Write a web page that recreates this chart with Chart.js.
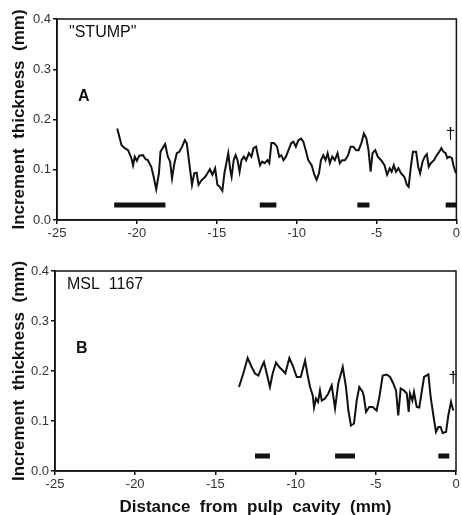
<!DOCTYPE html>
<html>
<head>
<meta charset="utf-8">
<script src="https://cdn.jsdelivr.net/npm/chart.js@4/dist/chart.umd.min.js"></script>
<style>
  html, body { margin: 0; padding: 0; background: #fff; overflow: hidden; }
  #wrap { position: relative; width: 462px; height: 515px; overflow: hidden; }
  canvas { position: absolute; left: 0; }
</style>
</head>
<body>
<div id="wrap">
  <canvas id="chartA" width="462" height="250" style="top:0"></canvas>
  <canvas id="chartB" width="462" height="268" style="top:250px"></canvas>
</div>
<script>
// x ticks (mm from pulp cavity) and y ticks (mm)
const xTicks = [-25, -20, -15, -10, -5, 0];
const yTicks = [0, 0.1, 0.2, 0.3, 0.4];

// panel A, "STUMP"
const stumpX = [-21.23, -20.96, -20.76, -20.55, -20.34, -20.24, -20.13, -20.0, -19.85, -19.62, -19.45, -19.31, -19.1,
  -18.95, -18.79, -18.62, -18.52, -18.33, -18.23, -18.06, -17.92, -17.8, -17.65, -17.5, -17.34, -17.17, -17.0,
  -16.88, -16.72, -16.55, -16.41, -16.26, -16.14, -15.93, -15.72, -15.58, -15.43, -15.27, -15.1, -14.96, -14.81,
  -14.65, -14.52, -14.4, -14.28, -14.15, -14.07, -13.94, -13.82, -13.7, -13.57, -13.45, -13.3, -13.16, -12.99,
  -12.83, -12.7, -12.54, -12.41, -12.29, -12.16, -12.0, -11.83, -11.71, -11.58, -11.42, -11.23, -11.09, -10.96,
  -10.82, -10.67, -10.51, -10.34, -10.2, -10.05, -9.89, -9.72, -9.58, -9.43, -9.27, -9.06, -8.89, -8.75, -8.6,
  -8.48, -8.33, -8.19, -8.06, -7.92, -7.77, -7.61, -7.44, -7.3, -7.15, -6.97, -6.78, -6.62, -6.45, -6.28, -6.12,
  -5.95, -5.79, -5.64, -5.5, -5.37, -5.25, -5.08, -4.92, -4.71, -4.5, -4.34, -4.17, -4.05, -3.92, -3.78, -3.63,
  -3.47, -3.26, -3.1, -2.99, -2.85, -2.72, -2.52, -2.39, -2.27, -2.12, -1.98, -1.85, -1.73, -1.6, -1.4, -1.23,
  -1.07, -0.94, -0.82, -0.67, -0.57, -0.45, -0.28, -0.16, -0.03];
const stumpY = [0.182, 0.149, 0.143, 0.139, 0.123, 0.109, 0.126, 0.118, 0.128, 0.129, 0.121, 0.119, 0.106,
  0.086, 0.061, 0.093, 0.136, 0.146, 0.151, 0.126, 0.116, 0.083, 0.113, 0.133, 0.136, 0.146, 0.159,
  0.153, 0.113, 0.07, 0.093, 0.094, 0.07, 0.08, 0.086, 0.093, 0.101, 0.09, 0.103, 0.07, 0.066,
  0.058, 0.093, 0.113, 0.133, 0.099, 0.086, 0.119, 0.129, 0.119, 0.096, 0.119, 0.126, 0.119, 0.133,
  0.126, 0.143, 0.146, 0.126, 0.109, 0.116, 0.113, 0.119, 0.113, 0.153, 0.153, 0.146, 0.126, 0.129,
  0.119, 0.126, 0.139, 0.153, 0.156, 0.146, 0.159, 0.162, 0.156, 0.139, 0.119, 0.109, 0.09, 0.08, 0.093,
  0.119, 0.129, 0.119, 0.133, 0.113, 0.126, 0.119, 0.133, 0.113, 0.119, 0.119, 0.129, 0.146, 0.146, 0.139, 0.139,
  0.153, 0.172, 0.163, 0.139, 0.096, 0.133, 0.139, 0.126, 0.119, 0.109, 0.09, 0.103, 0.096, 0.109, 0.096, 0.103,
  0.093, 0.086, 0.07, 0.066, 0.106, 0.136, 0.136, 0.106, 0.093, 0.116, 0.126, 0.131, 0.106, 0.113, 0.119, 0.129,
  0.136, 0.143, 0.136, 0.133, 0.123, 0.126, 0.123, 0.106, 0.093];
const stumpBars = [[-21.42, -18.21], [-12.31, -11.27], [-6.2, -5.44], [-0.67, 0]];

// panel B, MSL 1167
const mslX = [-13.53, -13.26, -12.99, -12.74, -12.53, -12.32, -12.11, -11.97, -11.8, -11.6, -11.43, -11.22,
  -11.02, -10.8, -10.64, -10.39, -10.18, -9.93, -9.68, -9.41, -9.27, -9.1, -8.93, -8.85, -8.73, -8.6, -8.48,
  -8.37, -8.17, -7.96, -7.75, -7.54, -7.34, -7.06, -6.86, -6.71, -6.55, -6.36, -6.19, -6.03, -5.82, -5.74,
  -5.61, -5.41, -5.2, -4.95, -4.78, -4.57, -4.32, -4.11, -3.91, -3.74, -3.6, -3.45, -3.24, -3.07, -2.95,
  -2.87, -2.72, -2.62, -2.45, -2.29, -2.14, -1.99, -1.72, -1.58, -1.41, -1.25, -1.1, -0.96, -0.83, -0.62,
  -0.48, -0.31, -0.17];
const mslY = [0.168, 0.195, 0.226, 0.208, 0.195, 0.191, 0.208, 0.218, 0.195, 0.168, 0.195, 0.217,
  0.208, 0.201, 0.195, 0.226, 0.211, 0.188, 0.188, 0.221, 0.195, 0.168, 0.151, 0.127, 0.145, 0.138, 0.161,
  0.141, 0.145, 0.155, 0.171, 0.125, 0.175, 0.208, 0.168, 0.121, 0.091, 0.095, 0.141, 0.168, 0.158, 0.148,
  0.118, 0.128, 0.128, 0.121, 0.148, 0.191, 0.193, 0.188, 0.175, 0.161, 0.111, 0.165, 0.161, 0.155, 0.118,
  0.155, 0.141, 0.158, 0.128, 0.127, 0.158, 0.188, 0.193, 0.148, 0.111, 0.078, 0.088, 0.088, 0.076, 0.078,
  0.111, 0.138, 0.121];
const mslBars = [[-12.53, -11.6], [-7.54, -6.3], [-1.1, -0.42]];

const barLevel = 0.03;

const FONT = "'Liberation Sans', Arial, Helvetica, sans-serif";
const INK = '#111';

function toPoints(xs, ys) {
  return xs.map((x, i) => ({ x: x, y: ys[i] }));
}

// frame round the plot area + text labels
const framePlugin = {
  id: 'frame',
  afterDraw(chart, args, opts) {
    const { ctx, chartArea: a, scales } = chart;
    ctx.save();
    ctx.strokeStyle = INK;
    ctx.lineWidth = 1.5;
    ctx.strokeRect(a.left, a.top, a.right - a.left, a.bottom - a.top);
    ctx.fillStyle = INK;
    ctx.textBaseline = 'middle';
    ctx.textAlign = 'left';
    ctx.font = '16px ' + FONT;
    ctx.fillText(opts.name, a.left + 12, a.top + 14);
    ctx.font = 'bold 16px ' + FONT;
    ctx.fillText(opts.letter, a.left + 21, a.top + 78);
    ctx.font = '17px ' + FONT;
    ctx.textAlign = 'center';
    ctx.fillText('\u2020', scales.x.getPixelForValue(opts.dagger[0]), scales.y.getPixelForValue(opts.dagger[1]));
    ctx.restore();
  }
};

function makeChart(id, xs, ys, bars, opts) {
  const datasets = [{
    data: toPoints(xs, ys),
    borderColor: INK,
    borderWidth: 2,
    pointRadius: 0,
    tension: 0
  }];
  bars.forEach(b => {
    datasets.push({
      data: [{ x: b[0], y: barLevel }, { x: b[1], y: barLevel }],
      borderColor: INK,
      borderWidth: 5,
      borderCapStyle: 'butt',
      pointRadius: 0
    });
  });
  return new Chart(id, {
    type: 'line',
    data: { datasets: datasets },
    options: {
      responsive: false,
      animation: false,
      layout: { padding: opts.padding },
      plugins: {
        legend: { display: false },
        tooltip: { enabled: false },
        frame: opts.frame
      },
      scales: {
        x: {
          type: 'linear',
          min: -25,
          max: 0,
          afterBuildTicks: s => { s.ticks = xTicks.map(v => ({ value: v })); },
          afterFit: s => { s.height = opts.xHeight; },
          grid: { drawOnChartArea: false, tickLength: 4, color: INK, lineWidth: 1.5 },
          border: { color: INK, width: 1.5 },
          ticks: { color: '#333', font: { family: FONT, size: 13 }, padding: 2, maxRotation: 0 },
          title: {
            display: opts.showXTitle,
            text: 'Distance  from  pulp  cavity  (mm)',
            color: INK,
            font: { family: FONT, size: 17, weight: 'bold' },
            padding: { top: 0, bottom: 0 }
          }
        },
        y: {
          min: 0,
          max: 0.4,
          afterBuildTicks: s => { s.ticks = yTicks.map(v => ({ value: v })); },
          afterFit: s => { s.width = opts.yWidth; },
          grid: { drawOnChartArea: false, tickLength: 4, color: INK, lineWidth: 1.5 },
          border: { color: INK, width: 1.5 },
          ticks: { color: '#333', font: { family: FONT, size: 13 }, padding: 2, callback: v => v.toFixed(1) },
          title: {
            display: true,
            text: 'Increment  thickness  (mm)',
            color: INK,
            font: { family: FONT, size: 17, weight: 'bold' },
            padding: { top: 0, bottom: 0 }
          }
        }
      }
    },
    plugins: [framePlugin]
  });
}

makeChart('chartA', stumpX, stumpY, stumpBars, {
  padding: { top: 19, right: 3, bottom: 0, left: 9 },
  xHeight: 30,
  yWidth: 48,
  showXTitle: false,
  frame: { name: '"STUMP"', letter: 'A', dagger: [-0.37, 0.17] }
});

makeChart('chartB', mslX, mslY, mslBars, {
  padding: { top: 21, right: 6, bottom: 0, left: 9 },
  xHeight: 47,
  yWidth: 46,
  showXTitle: true,
  frame: { name: 'MSL  1167', letter: 'B', dagger: [-0.17, 0.185] }
});
</script>
</body>
</html>
